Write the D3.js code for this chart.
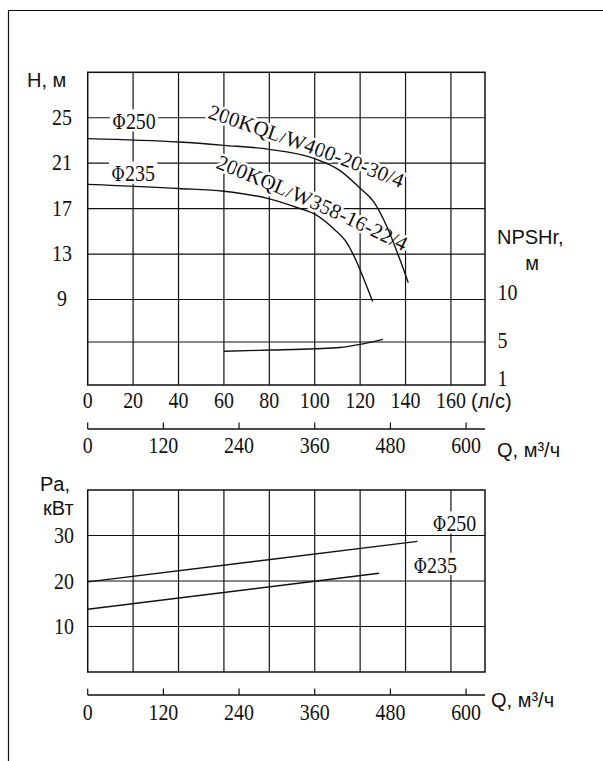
<!DOCTYPE html>
<html><head><meta charset="utf-8">
<script src="https://cdn.jsdelivr.net/npm/d3@7"></script>
<style>body{margin:0;background:#fff}</style>
</head><body>
<script>
// ---------- data ----------
const qTicksLs   = [0, 20, 40, 60, 80, 100, 120, 140, 160];
const qTicksM3h  = [0, 120, 240, 360, 480, 600];
const hTicks     = [25, 21, 17, 13, 9];
const hGrid      = [25, 21, 17, 13, 9, 5];
const npshTicks  = [10, 5, 1];
const pTicks     = [30, 20, 10];
// H (m) vs Q (l/s)
const head250 = [[0,23.16],[40,22.86],[60,22.57],[80,22.22],[100,21.40],[111,20.37],[120,18.79],[126,17.59],[132,15.32],[137.6,12.47],[141.2,10.48]];
const head235 = [[0,19.13],[40,18.77],[60,18.53],[80,17.86],[93.4,17.01],[100,16.51],[108.2,15.25],[114.1,14.0],[118.5,12.3],[120,11.6],[125.5,8.81]];
// NPSHr (m) vs Q (l/s)
const npshCurve = [[60,4.55],[80,4.68],[100,4.82],[111,4.95],[120,5.28],[130,5.81]];
// Power (kW) vs Q (m3/h)
const power250 = [[0,19.8],[523,28.7]];
const power235 = [[0,13.8],[462,21.7]];
const model250 = "200KQL/W400-20-30/4";
const model235 = "200KQL/W358-16-22/4";
const dia250 = "250", dia235 = "235";

// ---------- layout ----------
const W = 603, H = 761;
const X0 = 87.7, X1 = 485;
const svg = d3.select("body").append("svg").attr("width", W).attr("height", H);

const xLs  = d3.scaleLinear().domain([0,175]).range([X0, X1]);
const xM3  = d3.scaleLinear().domain([0,630]).range([X0, X1]);
const yH   = d3.scaleLinear().domain([1,5,9,29]).range([385,342,299.5,72.3]);
const yN   = d3.scaleLinear().domain([1,10]).range([385,299.5]);
const yP   = d3.scaleLinear().domain([0,40]).range([672,490]);

const INK = "#111";
const SERIF = "'Liberation Serif','DejaVu Serif',serif";
const SANS = "'Liberation Sans',Arial,sans-serif";

function stext(x, y, str, anchor, size) {
  const g = svg.append("g").attr("transform", `translate(${x},${y}) scale(0.83,1)`);
  g.append("text").attr("text-anchor", anchor || "middle").attr("dy", "0.33em")
    .attr("font-family", SERIF).attr("font-size", size || 24).attr("fill", INK).text(str);
  return g;
}
function sans(x, y, str, anchor) {
  return svg.append("text").attr("x", x).attr("y", y).attr("text-anchor", anchor || "start")
    .attr("font-family", SANS).attr("font-size", 20).attr("fill", INK).text(str);
}

// outer frame (top + left)
svg.append("line").attr("x1", 8.5).attr("x2", W).attr("y1", 10.5).attr("y2", 10.5).attr("stroke", INK).attr("stroke-width", 1.2);
svg.append("line").attr("x1", 8.5).attr("x2", 8.5).attr("y1", 10.5).attr("y2", H).attr("stroke", INK).attr("stroke-width", 1.2);

// ---------- top chart ----------
const topG = svg.append("g");
const topY0 = yH.range()[3], topY1 = yH.range()[0];
topG.selectAll("line.v").data(qTicksLs.slice(1)).join("line")
  .attr("x1", d => xLs(d)).attr("x2", d => xLs(d)).attr("y1", topY0).attr("y2", topY1)
  .attr("stroke", INK).attr("stroke-width", 1.2);
topG.selectAll("line.h").data(hGrid).join("line")
  .attr("x1", X0).attr("x2", X1).attr("y1", d => yH(d)).attr("y2", d => yH(d))
  .attr("stroke", INK).attr("stroke-width", 1.2);
topG.append("rect").attr("x", X0).attr("y", topY0).attr("width", X1 - X0).attr("height", topY1 - topY0)
  .attr("fill", "none").attr("stroke", INK).attr("stroke-width", 1.5);

// curve model labels along guide paths (drawn under the curves)
const guide = d3.line().x(d => xLs(d[0])).y(d => yH(d[1])).curve(d3.curveBasis);
const guides = [
  {id: "g250", pts: [[52.6,25.0],[95.7,22.1],[138.5,18.76]], txt: model250},
  {id: "g235", pts: [[56.1,20.6],[97.9,17.2],[139.3,13.2]], txt: model235}
];
const defs = svg.append("defs");
guides.forEach(g => {
  defs.append("path").attr("id", g.id).attr("d", guide(g.pts));
  topG.append("text").attr("font-family", SERIF).attr("font-size", 21).attr("fill", INK)
    .attr("stroke", "#fff").attr("stroke-width", 5).attr("paint-order", "stroke").attr("stroke-linejoin", "round")
    .append("textPath").attr("href", "#" + g.id).attr("textLength", 206).attr("lengthAdjust", "spacingAndGlyphs")
    .text(g.txt);
});

const lineH = d3.line().x(d => xLs(d[0])).y(d => yH(d[1])).curve(d3.curveMonotoneX);
const lineN = d3.line().x(d => xLs(d[0])).y(d => yN(d[1])).curve(d3.curveMonotoneX);
[head250, head235].forEach(s => topG.append("path").attr("d", lineH(s)).attr("fill", "none").attr("stroke", INK).attr("stroke-width", 1.4));
topG.append("path").attr("d", lineN(npshCurve)).attr("fill", "none").attr("stroke", INK).attr("stroke-width", 1.4);

// diameter labels with white backgrounds
function diaLabel(x, y, str) {
  const g = svg.append("g").attr("transform", `translate(${x},${y}) scale(0.83,1)`);
  const t = g.append("text").attr("text-anchor", "middle").attr("dy", "0.33em")
    .attr("font-family", SERIF).attr("font-size", 24).attr("fill", INK);
  t.append("tspan").attr("font-family", "'DejaVu Serif',serif").attr("font-size", 20).text("Φ");
  t.append("tspan").text(str);
  const b = t.node().getBBox();
  g.insert("rect", "text").attr("x", b.x - 3).attr("y", b.y + 2).attr("width", b.width + 6).attr("height", b.height - 5).attr("fill", "#fff");
}
diaLabel(xLs(20.4), yH(24.7), dia250);
diaLabel(xLs(20.0), yH(20.1), dia235);

// left H ticks
hTicks.forEach(d => stext(62, yH(d) - 1, String(d), "middle"));
// right NPSH ticks (baseline on value)
npshTicks.forEach(d => stext(497.5, yN(d) - 7, String(d), "start"));
// l/s ticks
qTicksLs.forEach(d => stext(xLs(d), 400, String(d), "middle"));
sans(471, 408, "(л/с)");
sans(27, 87, "H, м");
sans(497, 244, "NPSHr,");
sans(532, 270, "м", "middle");

// m3/h axis under top chart
const axY = 429;
svg.append("line").attr("x1", X0).attr("x2", X1).attr("y1", axY).attr("y2", axY).attr("stroke", INK).attr("stroke-width", 1.5);
svg.selectAll("line.t1").data(qTicksM3h).join("line").attr("x1", d => xM3(d)).attr("x2", d => xM3(d))
  .attr("y1", axY).attr("y2", axY - 6.5).attr("stroke", INK).attr("stroke-width", 1.2);
qTicksM3h.forEach(d => stext(xM3(d), 445, String(d), "middle"));
sans(497, 457, "Q, м³/ч");

// ---------- bottom chart ----------
const botG = svg.append("g");
const bY0 = yP(40), bY1 = yP(0);
botG.selectAll("line.v").data(qTicksLs.slice(1)).join("line")
  .attr("x1", d => xLs(d)).attr("x2", d => xLs(d)).attr("y1", bY0).attr("y2", bY1)
  .attr("stroke", INK).attr("stroke-width", 1.2);
botG.selectAll("line.h").data(pTicks).join("line")
  .attr("x1", X0).attr("x2", X1).attr("y1", d => yP(d)).attr("y2", d => yP(d))
  .attr("stroke", INK).attr("stroke-width", 1.2);
botG.append("rect").attr("x", X0).attr("y", bY0).attr("width", X1 - X0).attr("height", bY1 - bY0)
  .attr("fill", "none").attr("stroke", INK).attr("stroke-width", 1.5);
const lineP = d3.line().x(d => xM3(d[0])).y(d => yP(d[1]));
[power250, power235].forEach(s => botG.append("path").attr("d", lineP(s)).attr("fill", "none").attr("stroke", INK).attr("stroke-width", 1.4));
diaLabel(xM3(581.7), yP(32.7), dia250);
diaLabel(xM3(551), yP(23.6), dia235);
pTicks.forEach(d => stext(64, yP(d), String(d), "middle"));
sans(40, 491, "Pa,");
sans(43, 515, "кВт");

const ax2 = 695;
svg.append("line").attr("x1", X0).attr("x2", X1).attr("y1", ax2).attr("y2", ax2).attr("stroke", INK).attr("stroke-width", 1.5);
svg.selectAll("line.t2").data(qTicksM3h).join("line").attr("x1", d => xM3(d)).attr("x2", d => xM3(d))
  .attr("y1", ax2).attr("y2", ax2 - 6.5).attr("stroke", INK).attr("stroke-width", 1.2);
qTicksM3h.forEach(d => stext(xM3(d), 712, String(d), "middle"));
sans(491, 707, "Q, м³/ч");
</script>
</body></html>
